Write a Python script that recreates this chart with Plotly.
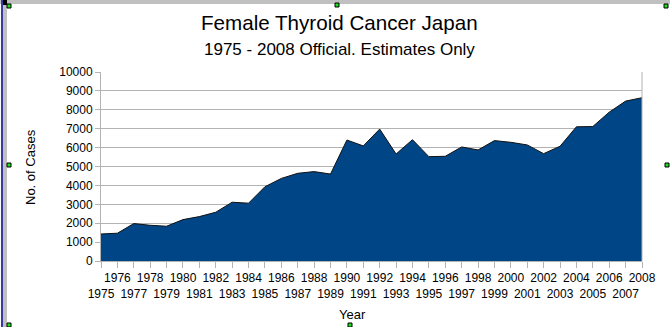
import plotly.graph_objects as go

years = list(range(1975, 2009))
cases = [1430, 1470, 1980, 1890, 1840, 2190, 2350, 2580, 3110, 3060,
         3930, 4370, 4640, 4730, 4600, 6400, 6090, 6980, 5660, 6420,
         5520, 5540, 6035, 5875, 6370, 6280, 6140, 5680, 6070, 7100,
         7115, 7875, 8460, 8640]
tick_text = [str(y) if y % 2 == 0 else "<br>" + str(y) for y in years]

title = "Female Thyroid Cancer Japan"
subtitle = "1975 - 2008 Official. Estimates Only"

W, H = 670, 327
L, R, T, B = 101, 642, 72, 261

def px(x):
    return (x - L) / (R - L)

def py(y):
    return (B - y) / (B - T)

fig = go.Figure(go.Scatter(
    x=years, y=cases, mode="lines", fill="tozeroy",
    fillcolor="#004586", line=dict(color="#111111", width=1),
    hoverinfo="x+y"))

shapes = []
# window-like frame decorations
shapes.append(dict(type="rect", xref="paper", yref="paper", x0=px(0), x1=px(670),
                   y0=py(4), y1=py(0), fillcolor="#c0c0c0", line=dict(width=0), layer="above"))
shapes.append(dict(type="rect", xref="paper", yref="paper", x0=px(3), x1=px(7),
                   y0=py(327), y1=py(0), fillcolor="#c0c0c0", line=dict(width=0), layer="above"))
shapes.append(dict(type="rect", xref="paper", yref="paper", x0=px(1), x1=px(3),
                   y0=py(327), y1=py(0), fillcolor="#3a3aa0", line=dict(width=0), layer="above"))
shapes.append(dict(type="rect", xref="paper", yref="paper", x0=px(3), x1=px(7),
                   y0=py(5), y1=py(0), fillcolor="#000000", line=dict(width=0), layer="above"))
for hx, hy in [(9, 6), (337, 5), (666, 6), (9, 165), (667, 165), (350, 325), (9, 325)]:
    shapes.append(dict(type="rect", xref="paper", yref="paper", x0=px(hx - 2), x1=px(hx + 2),
                       y0=py(hy + 2), y1=py(hy - 2), fillcolor="#22dd22",
                       line=dict(color="#000000", width=1), layer="above"))
# right border of plot area
shapes.append(dict(type="line", xref="paper", yref="paper", x0=1, x1=1, y0=0, y1=1,
                   line=dict(color="#b3b3b3", width=1), layer="above"))

fig.update_layout(
    width=W, height=H,
    margin=dict(l=L, r=W - R, t=T, b=H - B),
    paper_bgcolor="white", plot_bgcolor="white",
    showlegend=False,
    font=dict(family="Liberation Sans, Arial, sans-serif", color="#000000"),
    shapes=shapes,
    annotations=[
        dict(text=title, xref="paper", yref="paper", x=px(339), y=py(22.5),
             showarrow=False, font=dict(size=20.6), xanchor="center", yanchor="middle"),
        dict(text=subtitle, xref="paper", yref="paper", x=px(339), y=py(49),
             showarrow=False, font=dict(size=17), xanchor="center", yanchor="middle"),
        dict(text="No. of Cases", xref="paper", yref="paper", x=px(30), y=py(167),
             showarrow=False, textangle=-90, font=dict(size=13), xanchor="center", yanchor="middle"),
        dict(text="Year", xref="paper", yref="paper", x=px(352), y=py(314),
             showarrow=False, font=dict(size=13), xanchor="center", yanchor="middle"),
    ],
    xaxis=dict(range=[1975, 2008], tickmode="array", tickvals=years, ticktext=tick_text,
               ticks="outside", ticklen=6, tickcolor="#b3b3b3", showgrid=False,
               showline=True, linecolor="#b3b3b3", zeroline=False,
               tickfont=dict(size=12), tickangle=0, fixedrange=True),
    yaxis=dict(range=[0, 10000], dtick=1000, tickformat="d",
               ticks="outside", ticklen=5, tickcolor="#b3b3b3",
               showgrid=True, gridcolor="#b3b3b3", gridwidth=1,
               showline=True, linecolor="#b3b3b3", zeroline=False,
               tickfont=dict(size=12), fixedrange=True),
)

fig.write_html("out.html")
